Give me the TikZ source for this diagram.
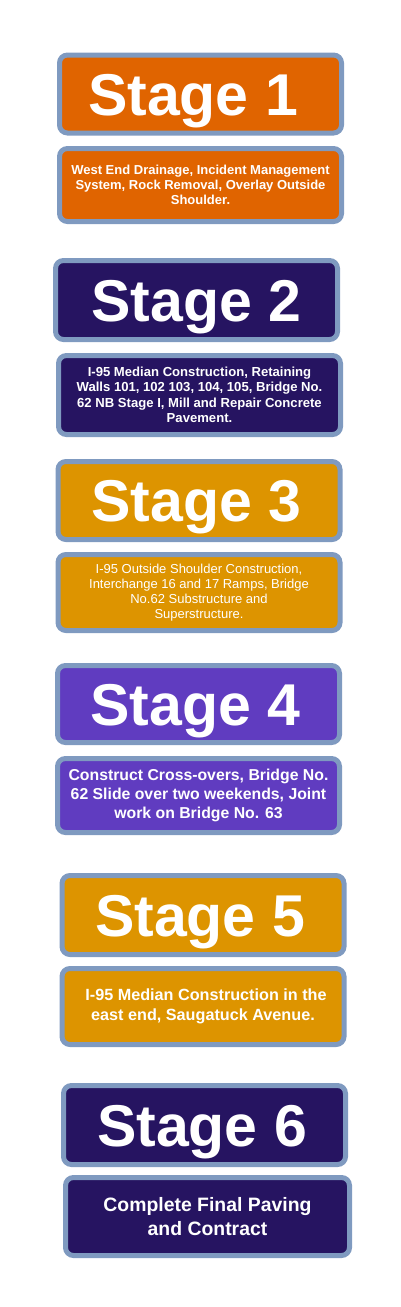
\documentclass[tikz,border=0pt]{standalone}
\usepackage{fontspec}
\setmainfont{Liberation Sans}
\definecolor{rimblue}{HTML}{7F9AC0}
\definecolor{stageorange}{HTML}{E06400}
\definecolor{stagenavy}{HTML}{261461}
\definecolor{stagegold}{HTML}{DD9400}
\definecolor{stagepurple}{HTML}{603CC0}
\tikzset{
  stagebox/.style = {draw=rimblue, line width=5pt, rounded corners=8pt,
    text=white, inner sep=0pt, minimum width=282pt,
    text height=42.5pt, text depth=0pt,
    font=\fontsize{59}{59}\selectfont\bfseries},
  infobox/.style = {draw=rimblue, line width=5pt, rounded corners=8pt,
    text=white, inner sep=0pt, minimum width=282pt, align=center}
}
\begin{document}
\begin{tikzpicture}[x=1pt, y=-1pt]
  \useasboundingbox (0,0) rectangle (400,1307);
  % stage 1
  \node (t1) at (200.5,94) [stagebox, fill=stageorange, minimum height=78pt] {Stage 1\hspace*{15pt}};
  \node (d1) at (200.5,185) [infobox, fill=stageorange, minimum height=73pt,
    font=\fontsize{13}{15}\selectfont\bfseries]
    {West End Drainage, Incident Management\\System, Rock Removal, Overlay Outside\\Shoulder.};
  % stage 2
  \node (t2) at (196.5,300) [stagebox, fill=stagenavy, minimum height=79pt] {Stage 2};
  \node (d2) at (199.5,395) [infobox, fill=stagenavy, minimum height=79pt,
    font=\fontsize{13.1}{15.5}\selectfont\bfseries]
    {I-95 Median Construction, Retaining\\Walls 101, 102 103, 104, 105, Bridge No.\\62 NB Stage I, Mill and Repair Concrete\\Pavement.};
  % stage 3
  \node (t3) at (199,500.5) [stagebox, fill=stagegold, minimum height=78pt] {Stage 3\hspace*{5pt}};
  \node (d3) at (199,592.5) [infobox, fill=stagegold, minimum height=76pt,
    font=\fontsize{13}{15}\selectfont]
    {I-95 Outside Shoulder Construction,\\Interchange 16 and 17 Ramps, Bridge\\No.62 Substructure and\\Superstructure.};
  % stage 4
  \node (t4) at (198.5,704) [stagebox, fill=stagepurple, minimum height=77pt] {Stage 4\hspace*{6pt}};
  \node (d4) at (198.5,795.5) [infobox, fill=stagepurple, minimum height=74pt,
    font=\fontsize{15.8}{19}\selectfont\bfseries]
    {Construct Cross-overs, Bridge No.\\62 Slide over two weekends, Joint\\work on Bridge No. 63};
  % stage 5
  \node (t5) at (203,915) [stagebox, fill=stagegold, minimum height=79pt] {Stage 5\hspace*{6pt}};
  \node (d5) at (203,1006.5) [infobox, fill=stagegold, minimum height=76pt,
    font=\fontsize{16.2}{20}\selectfont\bfseries]
    {\hspace*{6pt}I-95 Median Construction in the\\east end, Saugatuck Avenue.};
  % stage 6
  \node (t6) at (204.5,1125) [stagebox, fill=stagenavy, minimum height=79pt] {Stage 6\hspace*{5pt}};
  \node (d6) at (207.5,1216.5) [infobox, fill=stagenavy, minimum height=78pt, minimum width=284pt,
    font=\fontsize{19.4}{24}\selectfont\bfseries]
    {Complete Final Paving\\and Contract};
\end{tikzpicture}
\end{document}
